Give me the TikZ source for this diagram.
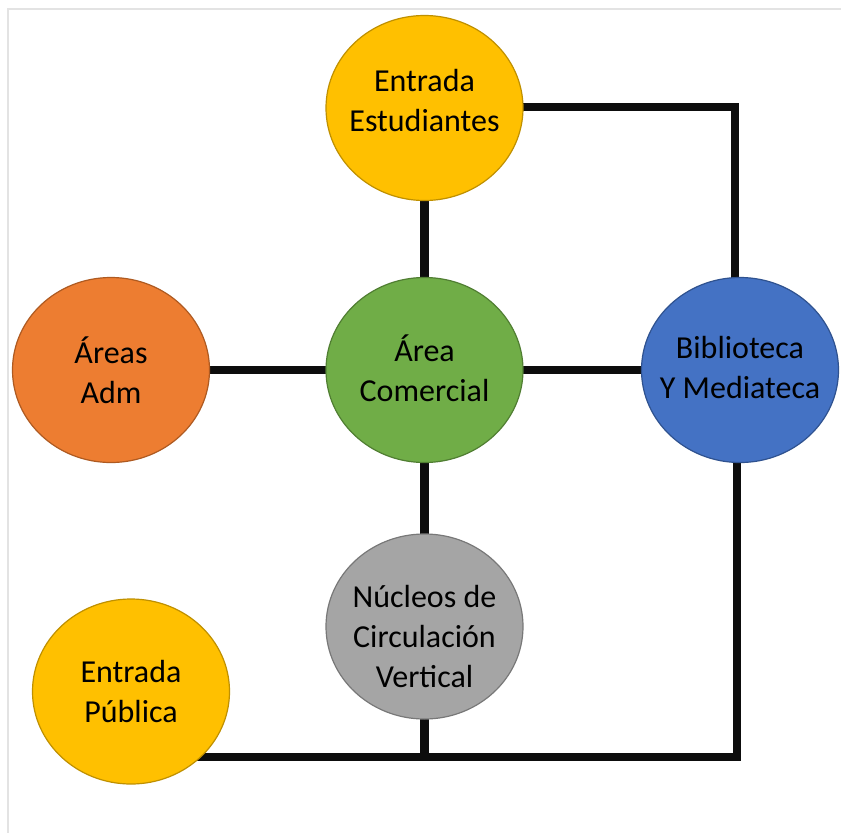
\documentclass[tikz,border=0pt]{standalone}
\usepackage{fontspec}
\setmainfont{Carlito}
\usetikzlibrary{shapes.geometric,backgrounds}
\definecolor{cyellow}{HTML}{FFC000}
\definecolor{cyellowb}{HTML}{BF9000}
\definecolor{corange}{HTML}{ED7D31}
\definecolor{corangeb}{HTML}{AE5A21}
\definecolor{cgreen}{HTML}{70AD47}
\definecolor{cgreenb}{HTML}{507E32}
\definecolor{cblue}{HTML}{4472C4}
\definecolor{cblueb}{HTML}{2F528F}
\definecolor{cgray}{HTML}{A5A5A5}
\definecolor{cgrayb}{HTML}{787878}
\definecolor{framegray}{HTML}{E3E3E3}
\tikzset{
  bubble/.style={ellipse, minimum width=197pt, minimum height=185pt, inner sep=0pt, line width=1.2pt},
  lbl/.style={align=center, font=\fontsize{32}{40}\selectfont, text=black, inner sep=0pt},
  link/.style={line width=8.5pt, line cap=butt, line join=miter, black!95}
}
\begin{document}
\begin{tikzpicture}[x=1pt,y=-1pt]
\useasboundingbox (0,0) rectangle (841,833);

\node[bubble, fill=cyellow, draw=cyellowb] (EE) at (424.5,108) {};
\node[bubble, fill=corange, draw=corangeb] (AA) at (111,370) {};
\node[bubble, fill=cgreen, draw=cgreenb] (AC) at (424.5,370) {};
\node[bubble, fill=cblue, draw=cblueb] (BM) at (740,370) {};
\node[bubble, fill=cgray, draw=cgrayb] (NC) at (424.5,626.5) {};
\node[bubble, fill=cyellow, draw=cyellowb] (EP) at (131,691.5) {};

\node[lbl] (EEt) at ([yshift=7pt]EE.center) {Entrada\\Estudiantes};
\node[lbl] (AAt) at (AA.center) {Áreas\\Adm};
\node[lbl] (ACt) at ([yshift=2pt]AC.center) {Área\\Comercial};
\node[lbl] (BMt) at ([yshift=2pt]BM.center) {Biblioteca\\Y Mediateca};
\node[lbl] (NCt) at ([yshift=-10pt]NC.center) {Núcleos de\\Circulación\\Vertical};
\node[lbl] (EPt) at (EP.center) {Entrada\\Pública};

\coordinate (tr) at (735,107);
\coordinate (br) at (737,757);
\coordinate (bm) at (424.5,757);

\begin{scope}[on background layer]
  \fill[white] (0,0) rectangle (841,833);
  \draw[framegray, line width=1.5pt] (8,833) -- (8,9) -- (841,9);
  \draw[link] (EE.center |- tr) -- (tr) -- (tr |- BM.center);
  \draw[link] (EE.center) -- (AC.center);
  \draw[link] (AA.center) -- (AC.center);
  \draw[link] (AC.center) -- (BM.center);
  \draw[link] (AC.center) -- (NC.center);
  \draw[link] (NC.center) -- (bm);
  \draw[link] (EP.center |- br) -- (br) -- (br |- BM.center);
\end{scope}
\end{tikzpicture}
\end{document}
